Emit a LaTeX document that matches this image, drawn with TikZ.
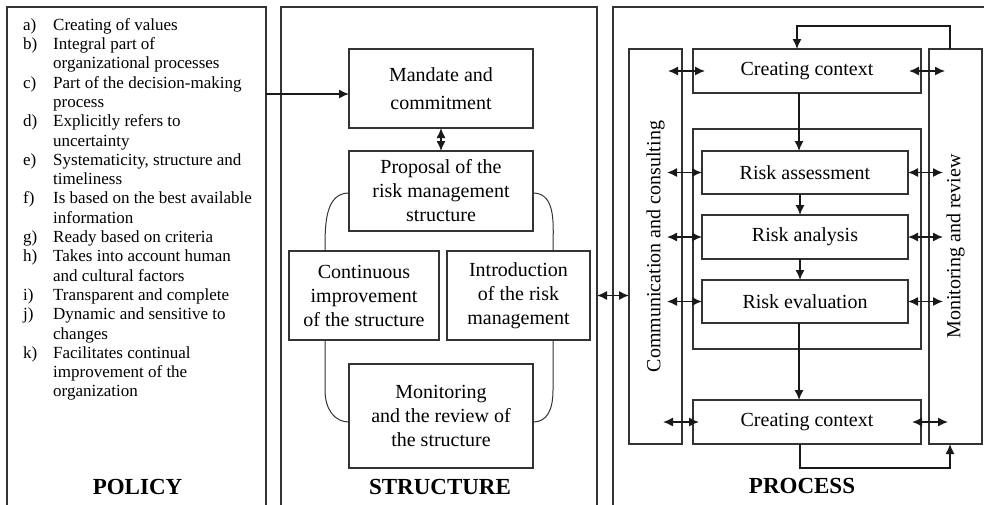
\documentclass[tikz,border=0pt]{standalone}
\usepackage{fontspec}
\setmainfont{Liberation Serif}
\usetikzlibrary{arrows.meta}
\tikzset{
  frame/.style={draw=black!80, line width=1.2pt, inner sep=0pt, outer sep=0pt, rectangle},
  txtbox/.style={frame, align=center, font=\fontsize{20}{24}\selectfont},
  lbl/.style={inner sep=0pt, font=\fontsize{20}{24}\selectfont},
  head/.style={inner sep=0pt, anchor=base, font=\fontsize{23}{27}\selectfont\bfseries},
  tip/.style={-{Latex[length=10pt,width=9pt]}, line width=1.4pt, draw=black!90},
  dtip/.style={{Latex[length=10pt,width=9pt]}-{Latex[length=10pt,width=9pt]}, line width=1.4pt, draw=black!90},
  arcline/.style={draw=black!80, line width=1pt},
}
\begin{document}
\begin{tikzpicture}[x=1pt,y=-1pt]
\useasboundingbox (0,0) rectangle (984,504);

% panels (open at the bottom / right, cropped by the page)
\node[frame, minimum width=259pt, minimum height=520pt] (pol) at (136.5,267) {};
\node[frame, minimum width=316pt, minimum height=520pt] (str) at (439,267) {};
\node[frame, minimum width=380pt, minimum height=520pt] (pro) at (803,267) {};

% policy list
\node[inner sep=0pt, anchor=north west, font=\fontsize{17}{19.3}\selectfont] (list) at (23,16.5) {%
\begin{tabular}{@{}p{30pt}@{}l@{}}
a) & Creating of values\\
b) & Integral part of\\
   & organizational processes\\
c) & Part of the decision-making\\
   & process\\
d) & Explicitly refers to\\
   & uncertainty\\
e) & Systematicity, structure and\\
   & timeliness\\
f) & Is based on the best available\\
   & information\\
g) & Ready based on criteria\\
h) & Takes into account human\\
   & and cultural factors\\
i) & Transparent and complete\\
j) & Dynamic and sensitive to\\
   & changes\\
k) & Facilitates continual\\
   & improvement of the\\
   & organization
\end{tabular}};
\node[head] (polh) at (137.5,494) {POLICY};

% structure
\node[txtbox, font=\fontsize{20}{28}\selectfont, minimum width=184pt, minimum height=79pt] (mandate) at (441,88.5) {Mandate and\\commitment};
\node[txtbox, minimum width=184pt, minimum height=80pt] (proposal) at (441,191) {Proposal of the\\risk management\\structure};
\node[txtbox, minimum width=150pt, minimum height=89pt] (cont) at (364,295.5) {Continuous\\improvement\\of the structure};
\node[txtbox, minimum width=143pt, minimum height=89pt] (intro) at (518.5,295.5) {Introduction\\of the risk\\management};
\node[txtbox, minimum width=184pt, minimum height=104pt] (smon) at (441,416) {Monitoring\\and the review of\\the structure};
\node[head] (strh) at (440,494) {STRUCTURE};

\coordinate (pm) at ([yshift=-5.5pt]mandate.west);
\draw[tip] (pol.east |- pm) -- (pm);
\draw[dtip] (mandate) -- (proposal);
\draw[arcline] ([yshift=-2pt]proposal.west) to[out=180,in=90] ([xshift=36pt]cont.north west);
\draw[arcline] ([yshift=-2pt]proposal.east) to[out=0,in=90] ([xshift=-37pt]intro.north east);
\draw[arcline] ([xshift=36pt]cont.south west) -- ++(0,50) .. controls +(0,20) and +(-14,0) .. ([yshift=-6pt]smon.west);
\draw[arcline] ([xshift=-37pt]intro.south east) -- ++(0,50) .. controls +(0,20) and +(14,0) .. ([yshift=-6pt]smon.east);

% process
\node[frame, minimum width=53pt, minimum height=395pt] (comm) at (655.5,246.5) {};
\node[frame, minimum width=53pt, minimum height=395pt] (mon) at (955.5,246.5) {};
\node[lbl, rotate=90] (commt) at (comm) {Communication and consulting};
\node[lbl, rotate=90] (mont) at (mon) {Monitoring and review};
\node[txtbox, minimum width=228pt, minimum height=44pt] (cc1) at (807,71) {Creating context};
\node[frame, minimum width=228pt, minimum height=220pt] (grp) at (807,239) {};
\node[txtbox, minimum width=206pt, minimum height=43pt] (ra) at (805,172.5) {Risk assessment};
\node[txtbox, minimum width=206pt, minimum height=44pt] (rn) at (805,237) {Risk analysis};
\node[txtbox, minimum width=206pt, minimum height=43pt] (re) at (805,301.5) {Risk evaluation};
\node[txtbox, minimum width=228pt, minimum height=44pt] (cc2) at (807,422) {Creating context};
\node[head] (proh) at (802,493) {PROCESS};

\draw[tip] ([xshift=-6pt]ra.north |- cc1.south) -- ([xshift=-6pt]ra.north);
\draw[tip] ([xshift=-5pt]ra.south) -- ([xshift=-5pt]rn.north);
\draw[tip] ([xshift=-5pt]rn.south) -- ([xshift=-5pt]re.north);
\draw[tip] ([xshift=-6pt]re.south) -- ([xshift=-6pt]re.south |- cc2.north);

\draw[tip] ([xshift=-5.5pt]mon.north) -- ++(0,-23) -| ([xshift=-10pt]cc1.north);
\draw[tip] ([xshift=-7pt]cc2.south) -- ++(0,24) -| ([xshift=-5.5pt]mon.south);

\draw[dtip] ([xshift=-14pt]comm.east |- cc1) -- ([xshift=12pt]cc1.west);
\draw[dtip] ([xshift=-15pt]comm.east |- ra) -- (ra.west);
\draw[dtip] ([xshift=-15pt]comm.east |- rn) -- (rn.west);
\draw[dtip] ([xshift=-15pt]comm.east |- re) -- (re.west);
\draw[dtip] ([xshift=-19pt]comm.east |- cc2) -- ([xshift=6pt]cc2.west);

\draw[dtip] ([xshift=-12pt]cc1.east) -- ([xshift=16pt]mon.west |- cc1);
\draw[dtip] (ra.east) -- ([xshift=14pt]mon.west |- ra);
\draw[dtip] (rn.east) -- ([xshift=14pt]mon.west |- rn);
\draw[dtip] (re.east) -- ([xshift=14pt]mon.west |- re);
\draw[dtip] ([xshift=-9pt]cc2.east) -- ([xshift=19pt]mon.west |- cc2);

\draw[dtip] (str.east |- intro) -- (comm.west |- intro);
\end{tikzpicture}
\end{document}
